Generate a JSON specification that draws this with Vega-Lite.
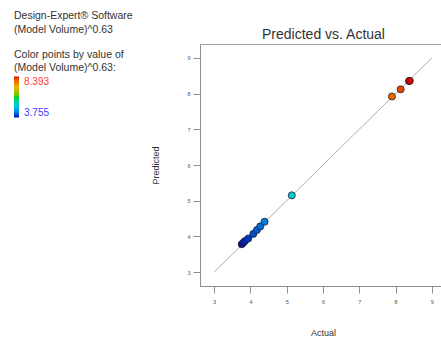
{
  "$schema": "https://vega.github.io/schema/vega-lite/v6.json",
  "autosize": "none",
  "width": 246,
  "height": 242,
  "padding": {"left": 200, "top": 44, "right": 0, "bottom": 51},
  "background": "white",
  "config": {
    "font": "Liberation Sans",
    "view": {"stroke": "#a0a0a0", "strokeWidth": 1},
    "axis": {"grid": false, "domainColor": "#909090", "tickColor": "#909090", "labelColor": "#555", "labelFontSize": 5.5, "titleFontWeight": "normal", "titleFontSize": 9, "titleColor": "#333", "tickSize": 7}
  },
  "title": {"text": ["Design-Expert® Software", "(Model Volume)^0.63"], "fontSize": 10.5, "fontWeight": "normal", "color": "#333", "anchor": "start", "frame": "bounds", "offset": 0, "dy": 8, "lineHeight": 13.5},
  "resolve": {"axis": {"x": "independent"}},
  "layer": [
    {
      "data": {"values": [{"a": 3, "p": 3}, {"a": 9, "p": 9}]},
      "mark": {"type": "line", "color": "#b0b0b0", "strokeWidth": 1},
      "encoding": {
        "x": {"field": "a", "type": "quantitative", "scale": {"domain": [2.61, 9.39], "nice": false, "zero": false}, "axis": {"title": "Actual", "values": [3,4,5,6,7,8,9], "titlePadding": 24, "labelPadding": 6}},
        "y": {"field": "p", "type": "quantitative", "scale": {"domain": [2.61, 9.39], "nice": false, "zero": false}, "axis": {"title": "Predicted", "values": [3,4,5,6,7,8,9], "titlePadding": 26, "labelPadding": 3}}
      }
    },
    {
      "data": {"values": [
        {"actual": 3.76, "predicted": 3.78},
        {"actual": 3.80, "predicted": 3.82},
        {"actual": 3.85, "predicted": 3.87},
        {"actual": 3.94, "predicted": 3.94},
        {"actual": 4.08, "predicted": 4.07},
        {"actual": 4.18, "predicted": 4.18},
        {"actual": 4.27, "predicted": 4.28},
        {"actual": 4.39, "predicted": 4.41},
        {"actual": 5.14, "predicted": 5.15},
        {"actual": 7.90, "predicted": 7.92},
        {"actual": 8.14, "predicted": 8.12},
        {"actual": 8.37, "predicted": 8.35},
        {"actual": 8.393, "predicted": 8.36}
      ]},
      "mark": {"type": "point", "shape": "circle", "filled": true, "size": 50, "opacity": 1, "stroke": "#222", "strokeWidth": 0.8},
      "encoding": {
        "x": {"field": "actual", "type": "quantitative", "axis": {"orient": "top", "title": "Predicted vs. Actual", "titleFontSize": 14, "titleColor": "#333", "titlePadding": 3, "domain": false, "ticks": false, "labels": false}},
        "y": {"field": "predicted", "type": "quantitative"},
        "color": {
          "field": "actual", "type": "quantitative",
          "scale": {"domain": [3.755, 8.393], "range": ["#0000b0", "#00c0e0", "#00d000", "#f0b000", "#e00000"], "nice": false, "zero": false},
          "legend": {
            "orient": "none", "legendX": -186, "legendY": 6,
            "title": ["Color points by value of", "(Model Volume)^0.63:"],
            "titleFontSize": 10.5, "titleFontWeight": "normal", "titleColor": "#333", "titleLineHeight": 13, "titlePadding": 3,
            "gradientLength": 41, "gradientThickness": 5, "gradientStrokeWidth": 0,
            "values": [3.755, 8.393], "format": ".3f", "labelFontSize": 10, "labelOffset": 5,
            "labelColor": {"expr": "datum.value > 6 ? '#ff3b3b' : '#3b3bff'"}
          }
        }
      }
    }
  ]
}
